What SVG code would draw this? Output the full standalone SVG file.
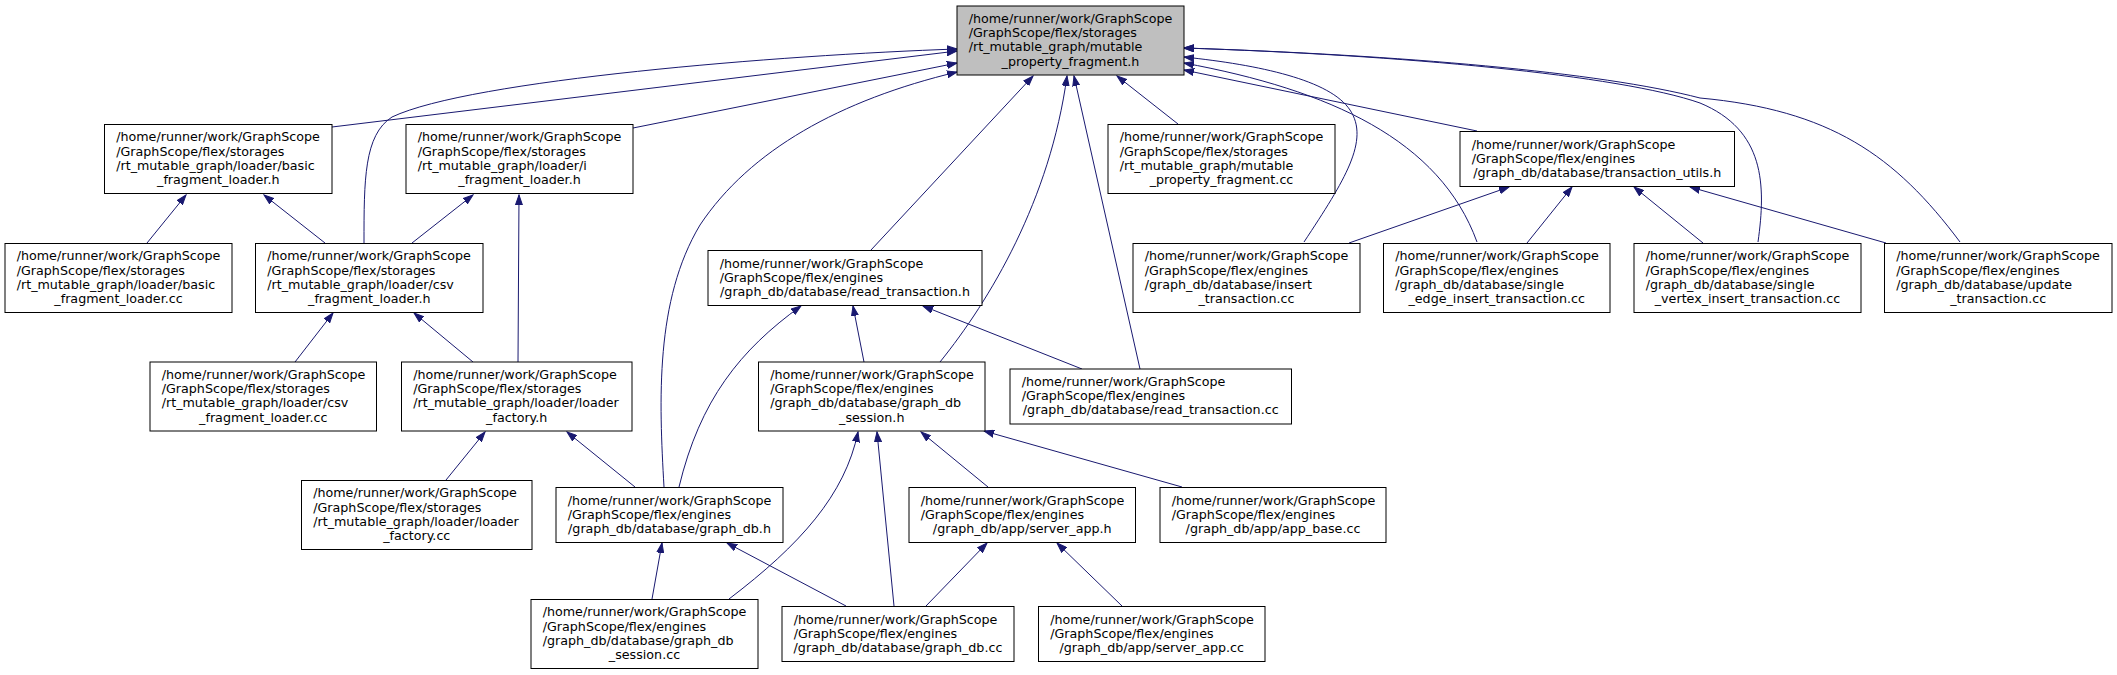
<svg xmlns="http://www.w3.org/2000/svg" width="2117" height="675" viewBox="0 0 2117 675">
<style>
.n rect{fill:#fff;stroke:#000;stroke-width:1}
#root rect{fill:#bfbfbf}
text{font-family:"DejaVu Sans","Liberation Sans",sans-serif;font-size:12.7px;fill:#000}
.c{text-anchor:middle}
#edges path{fill:none;stroke:#191970;stroke-width:1;marker-end:url(#ah)}
</style>
<defs>
<marker id="ah" markerWidth="11" markerHeight="8" refX="10" refY="4" orient="auto" markerUnits="userSpaceOnUse">
<path d="M0,0.5 L10,4 L0,7.5 z" fill="#191970" stroke="#191970" stroke-width="1"/>
</marker>
</defs>
<rect width="2117" height="675" fill="#fff"/>
<g id="edges">
<path d="M332,127 L957,51"/>
<path d="M364,243 C364,180 364,135 392,117 C470,80 780,55 957,49"/>
<path d="M633,128 L957,63"/>
<path d="M664,487 C659,400 655,300 700,225 C750,150 840,100 957,72"/>
<path d="M1178,124 L1117,76"/>
<path d="M1477,131 L1184,70"/>
<path d="M1304,242 C1345,180 1370,140 1350,110 C1330,80 1260,65 1184,57"/>
<path d="M1477,242 C1440,140 1330,90 1184,63"/>
<path d="M1758,242 C1766,185 1765,130 1700,103 C1620,75 1400,55 1184,48"/>
<path d="M1960,242 C1895,155 1830,110 1700,98 C1600,72 1400,55 1184,48"/>
<path d="M940,362 C990,300 1050,200 1067,76"/>
<path d="M1140,369 L1074,76"/>
<path d="M871,250 L1033,76"/>
<path d="M147,243 L186,195"/>
<path d="M325,243 L264,195"/>
<path d="M412,243 L473,195"/>
<path d="M518,362 L519,195"/>
<path d="M295,362 L333,313"/>
<path d="M473,362 L414,313"/>
<path d="M1349,243 L1509,187"/>
<path d="M1527,243 L1572,187"/>
<path d="M1703,243 L1634,187"/>
<path d="M1886,243 L1690,187"/>
<path d="M864,362 L853,306"/>
<path d="M1082,369 L923,306"/>
<path d="M679,487 C700,400 740,350 801,306"/>
<path d="M446,480 L485,432"/>
<path d="M635,487 L567,432"/>
<path d="M988,487 L921,432"/>
<path d="M1182,487 L984,431"/>
<path d="M729,599 C800,545 845,495 858,432"/>
<path d="M894,606 L877,432"/>
<path d="M652,599 L662,543"/>
<path d="M846,606 L727,543"/>
<path d="M926,606 L987,543"/>
<path d="M1122,606 L1057,543"/>
</g>
<g id="root" class="n"><rect x="957" y="6" width="227" height="69"/>
<text x="968.7" y="22.9">/home/runner/work/GraphScope</text><text x="968.7" y="37.1">/GraphScope/flex/storages</text><text x="968.7" y="51.3">/rt_mutable_graph/mutable</text><text class="c" x="1070.5" y="65.5">_property_fragment.h</text></g>
<g id="n1" class="n"><rect x="104.5" y="124.5" width="227.5" height="69"/>
<text x="116.2" y="141.4">/home/runner/work/GraphScope</text><text x="116.2" y="155.6">/GraphScope/flex/storages</text><text x="116.2" y="169.8">/rt_mutable_graph/loader/basic</text><text class="c" x="218.25" y="184">_fragment_loader.h</text></g>
<g id="n2" class="n"><rect x="406" y="124.5" width="227" height="69"/>
<text x="417.7" y="141.4">/home/runner/work/GraphScope</text><text x="417.7" y="155.6">/GraphScope/flex/storages</text><text x="417.7" y="169.8">/rt_mutable_graph/loader/i</text><text class="c" x="519.5" y="184">_fragment_loader.h</text></g>
<g id="n3" class="n"><rect x="1108" y="124.5" width="227" height="69"/>
<text x="1119.7" y="141.4">/home/runner/work/GraphScope</text><text x="1119.7" y="155.6">/GraphScope/flex/storages</text><text x="1119.7" y="169.8">/rt_mutable_graph/mutable</text><text class="c" x="1221.5" y="184">_property_fragment.cc</text></g>
<g id="n4" class="n"><rect x="1460" y="131.5" width="274.5" height="55"/>
<text x="1471.7" y="148.5">/home/runner/work/GraphScope</text><text x="1471.7" y="162.7">/GraphScope/flex/engines</text><text class="c" x="1597.25" y="176.9">/graph_db/database/transaction_utils.h</text></g>
<g id="n5" class="n"><rect x="5" y="243.5" width="227" height="69"/>
<text x="16.7" y="260.4">/home/runner/work/GraphScope</text><text x="16.7" y="274.6">/GraphScope/flex/storages</text><text x="16.7" y="288.8">/rt_mutable_graph/loader/basic</text><text class="c" x="118.5" y="303">_fragment_loader.cc</text></g>
<g id="n6" class="n"><rect x="255.5" y="243.5" width="227.5" height="69"/>
<text x="267.2" y="260.4">/home/runner/work/GraphScope</text><text x="267.2" y="274.6">/GraphScope/flex/storages</text><text x="267.2" y="288.8">/rt_mutable_graph/loader/csv</text><text class="c" x="369.25" y="303">_fragment_loader.h</text></g>
<g id="n7" class="n"><rect x="708" y="250.5" width="274" height="55"/>
<text x="719.7" y="267.5">/home/runner/work/GraphScope</text><text x="719.7" y="281.7">/GraphScope/flex/engines</text><text class="c" x="845" y="295.9">/graph_db/database/read_transaction.h</text></g>
<g id="n8" class="n"><rect x="1133" y="243.5" width="227" height="69"/>
<text x="1144.7" y="260.4">/home/runner/work/GraphScope</text><text x="1144.7" y="274.6">/GraphScope/flex/engines</text><text x="1144.7" y="288.8">/graph_db/database/insert</text><text class="c" x="1246.5" y="303">_transaction.cc</text></g>
<g id="n9" class="n"><rect x="1383.5" y="243.5" width="226.5" height="69"/>
<text x="1395.2" y="260.4">/home/runner/work/GraphScope</text><text x="1395.2" y="274.6">/GraphScope/flex/engines</text><text x="1395.2" y="288.8">/graph_db/database/single</text><text class="c" x="1496.75" y="303">_edge_insert_transaction.cc</text></g>
<g id="n10" class="n"><rect x="1634" y="243.5" width="227" height="69"/>
<text x="1645.7" y="260.4">/home/runner/work/GraphScope</text><text x="1645.7" y="274.6">/GraphScope/flex/engines</text><text x="1645.7" y="288.8">/graph_db/database/single</text><text class="c" x="1747.5" y="303">_vertex_insert_transaction.cc</text></g>
<g id="n11" class="n"><rect x="1884.5" y="243.5" width="227.5" height="69"/>
<text x="1896.2" y="260.4">/home/runner/work/GraphScope</text><text x="1896.2" y="274.6">/GraphScope/flex/engines</text><text x="1896.2" y="288.8">/graph_db/database/update</text><text class="c" x="1998.25" y="303">_transaction.cc</text></g>
<g id="n12" class="n"><rect x="150" y="362" width="226.5" height="69"/>
<text x="161.7" y="378.9">/home/runner/work/GraphScope</text><text x="161.7" y="393.1">/GraphScope/flex/storages</text><text x="161.7" y="407.3">/rt_mutable_graph/loader/csv</text><text class="c" x="263.25" y="421.5">_fragment_loader.cc</text></g>
<g id="n13" class="n"><rect x="401.5" y="362" width="230.5" height="69"/>
<text x="413.2" y="378.9">/home/runner/work/GraphScope</text><text x="413.2" y="393.1">/GraphScope/flex/storages</text><text x="413.2" y="407.3">/rt_mutable_graph/loader/loader</text><text class="c" x="516.75" y="421.5">_factory.h</text></g>
<g id="n14" class="n"><rect x="758.5" y="362" width="226.5" height="69"/>
<text x="770.2" y="378.9">/home/runner/work/GraphScope</text><text x="770.2" y="393.1">/GraphScope/flex/engines</text><text x="770.2" y="407.3">/graph_db/database/graph_db</text><text class="c" x="871.75" y="421.5">_session.h</text></g>
<g id="n15" class="n"><rect x="1010" y="369" width="281.5" height="55"/>
<text x="1021.7" y="386">/home/runner/work/GraphScope</text><text x="1021.7" y="400.2">/GraphScope/flex/engines</text><text class="c" x="1150.75" y="414.4">/graph_db/database/read_transaction.cc</text></g>
<g id="n16" class="n"><rect x="301.5" y="480.5" width="230.5" height="69"/>
<text x="313.2" y="497.4">/home/runner/work/GraphScope</text><text x="313.2" y="511.6">/GraphScope/flex/storages</text><text x="313.2" y="525.8">/rt_mutable_graph/loader/loader</text><text class="c" x="416.75" y="540">_factory.cc</text></g>
<g id="n17" class="n"><rect x="556" y="487.5" width="227" height="55"/>
<text x="567.7" y="504.5">/home/runner/work/GraphScope</text><text x="567.7" y="518.7">/GraphScope/flex/engines</text><text class="c" x="669.5" y="532.9">/graph_db/database/graph_db.h</text></g>
<g id="n18" class="n"><rect x="909" y="487.5" width="226.5" height="55"/>
<text x="920.7" y="504.5">/home/runner/work/GraphScope</text><text x="920.7" y="518.7">/GraphScope/flex/engines</text><text class="c" x="1022.25" y="532.9">/graph_db/app/server_app.h</text></g>
<g id="n19" class="n"><rect x="1160" y="487.5" width="226" height="55"/>
<text x="1171.7" y="504.5">/home/runner/work/GraphScope</text><text x="1171.7" y="518.7">/GraphScope/flex/engines</text><text class="c" x="1273" y="532.9">/graph_db/app/app_base.cc</text></g>
<g id="n20" class="n"><rect x="531" y="599.5" width="227" height="69"/>
<text x="542.7" y="616.4">/home/runner/work/GraphScope</text><text x="542.7" y="630.6">/GraphScope/flex/engines</text><text x="542.7" y="644.8">/graph_db/database/graph_db</text><text class="c" x="644.5" y="659">_session.cc</text></g>
<g id="n21" class="n"><rect x="782" y="606.5" width="232" height="55"/>
<text x="793.7" y="623.5">/home/runner/work/GraphScope</text><text x="793.7" y="637.7">/GraphScope/flex/engines</text><text class="c" x="898" y="651.9">/graph_db/database/graph_db.cc</text></g>
<g id="n22" class="n"><rect x="1038.5" y="606.5" width="226.5" height="55"/>
<text x="1050.2" y="623.5">/home/runner/work/GraphScope</text><text x="1050.2" y="637.7">/GraphScope/flex/engines</text><text class="c" x="1151.75" y="651.9">/graph_db/app/server_app.cc</text></g>
</svg>
